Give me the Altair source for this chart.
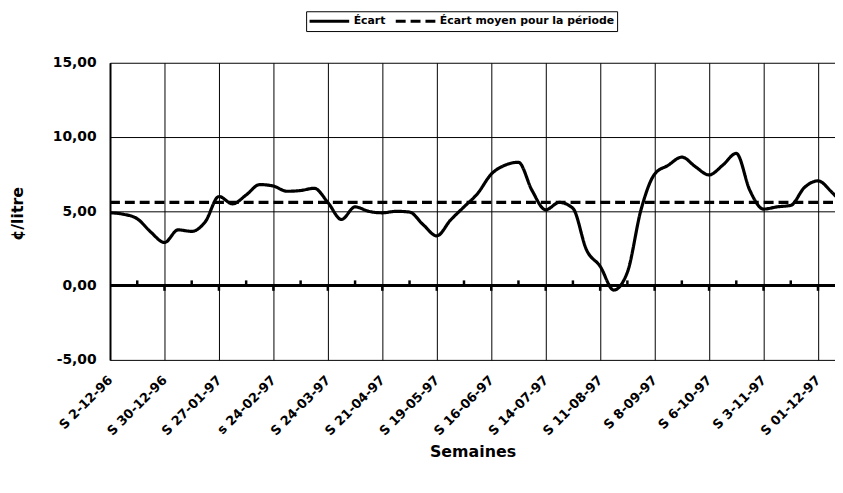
import altair as alt
import pandas as pd

# ---- data ----
WEEK_LABELS = ["S 2-12-96", "S 30-12-96", "S 27-01-97", "s 24-02-97", "S 24-03-97",
               "S 21-04-97", "S 19-05-97", "S 16-06-97", "S 14-07-97", "S 11-08-97",
               "S 8-09-97", "S 6-10-97", "S 3-11-97", "S 01-12-97"]
LABEL_WEEKS = [0, 4, 8, 12, 16, 20, 24, 28, 32, 36, 40, 44, 48, 52]
ECART = [4.9, 4.8, 4.5, 3.6, 2.9, 3.75, 3.65, 4.3, 6.0, 5.5,
         6.1, 6.8, 6.7, 6.35, 6.4, 6.55, 5.6, 4.45, 5.3, 5.0,
         4.9, 5.0, 4.95, 4.1, 3.35, 4.4, 5.3, 6.2, 7.5, 8.1,
         8.3, 6.4, 5.1, 5.6, 5.2, 2.4, 1.3, -0.3, 0.9, 5.1,
         7.5, 8.1, 8.65, 8.0, 7.45, 8.1, 8.9, 6.4, 5.15, 5.3,
         5.4, 6.6, 7.05, 6.3, 5.3]
MEAN_VALUE = 5.6
SERIES = ["Écart", "Écart moyen pour la période"]
Y_TICKS = [-5, 0, 5, 10, 15]
MINOR_UP = [2, 6, 10, 14, 18, 22, 26, 30, 34, 38, 42, 46, 50]
MINOR_DOWN = [4, 8, 12, 16, 20, 24, 28, 32, 36, 40, 44, 48, 52]

FONT = "DejaVu Sans"

weeks = list(range(len(ECART)))
df_lines = pd.concat([
    pd.DataFrame({"week": weeks, "value": ECART, "series": SERIES[0]}),
    pd.DataFrame({"week": [0, len(ECART) - 1], "value": [MEAN_VALUE, MEAN_VALUE],
                  "series": SERIES[1]}),
])
df_zero = pd.DataFrame({"y": [0]})
df_minor = pd.concat([
    pd.DataFrame({"week": MINOR_UP, "y0": 0.0, "y1": 0.35}),
    pd.DataFrame({"week": MINOR_DOWN, "y0": -0.35, "y1": 0.0}),
])

label_array = "[" + ",".join("'" + s + "'" for s in WEEK_LABELS) + "]"

x_scale = alt.Scale(domain=[0, 53.25], nice=False, zero=False)
y_scale = alt.Scale(domain=[-5, 15], nice=False)

x_axis = alt.Axis(
    values=LABEL_WEEKS,
    labelExpr=label_array + "[round(datum.value/4)]",
    labelAngle=315, labelAlign="right", labelBaseline="middle",
    labelPadding=18, ticks=False, domain=False,
    grid=True, gridColor="black", gridWidth=1, gridOpacity=1,
    labelFont=FONT, labelFontSize=13, labelFontWeight="bold", labelColor="black",
    labelOverlap=False, labelFlush=False,
    title="Semaines", titleFont=FONT, titleFontSize=16, titleFontWeight="bold",
    titleColor="black", titleY=93, titleBaseline="middle",
)
y_axis = alt.Axis(
    values=Y_TICKS,
    labelExpr="replace(replace(format(datum.value, '.2f'), '.', ','), '\u2212', '-')",
    ticks=False, labelPadding=14,
    domain=True, domainColor="black", domainWidth=2,
    grid=True, gridColor="black", gridWidth=1, gridOpacity=1,
    labelFont=FONT, labelFontSize=14, labelFontWeight="bold", labelColor="black",
    title="¢/litre", titleFont=FONT, titleFontSize=16, titleFontWeight="bold",
    titleColor="black", titleAngle=270, titleX=-93, titleY=152,
    titleAlign="center", titleBaseline="middle",
)

lines = alt.Chart(df_lines).mark_line(
    color="black", strokeWidth=3.2, interpolate="monotone", clip=True
).encode(
    x=alt.X("week:Q", scale=x_scale, axis=x_axis),
    y=alt.Y("value:Q", scale=y_scale, axis=y_axis),
    strokeDash=alt.StrokeDash(
        "series:N",
        scale=alt.Scale(domain=SERIES, range=[[1, 0], [10, 5]]),
        legend=alt.Legend(
            title=None, orient="none", legendX=198, legendY=-52,
            direction="horizontal", strokeColor="black", fillColor="white",
            padding=2, symbolType="stroke", symbolStrokeWidth=3, symbolSize=1600,
            symbolStrokeColor="black", columnPadding=8, labelOffset=3,
            clipHeight=16,
            labelFont=FONT, labelFontSize=11, labelFontWeight="bold",
            labelColor="black", labelLimit=400,
        ),
    ),
    detail="series:N",
)

zero = alt.Chart(df_zero).mark_rule(color="black", strokeWidth=3).encode(
    y=alt.Y("y:Q", scale=y_scale)
)

minor = alt.Chart(df_minor).mark_rule(color="black", strokeWidth=2.5).encode(
    x=alt.X("week:Q", scale=x_scale),
    y=alt.Y("y0:Q", scale=y_scale),
    y2="y1:Q",
)

chart = alt.layer(zero, minor, lines).properties(
    width=732, height=300,
    padding={"left": 103, "top": 53, "right": 0, "bottom": 120},
    autosize=alt.AutoSizeParams(type="none"),
    background="white",
).configure_view(strokeWidth=0)

chart.save("out.html", embed_options={"renderer": "svg", "actions": False})
